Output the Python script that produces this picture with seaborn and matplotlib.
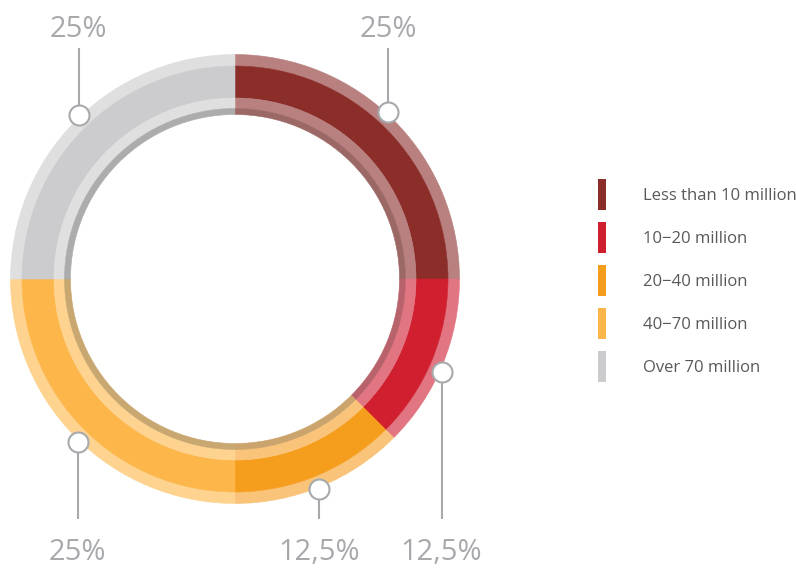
import numpy as np
import matplotlib
matplotlib.use("Agg")
import matplotlib.pyplot as plt
from matplotlib.patches import Patch
import seaborn as sns

# ---- data ----
categories = ["Less than 10 million", "10\u221220 million", "20\u221240 million",
              "40\u221270 million", "Over 70 million"]
shares = [25, 12.5, 12.5, 25, 25]
pct_labels = ["25%", "12,5%", "12,5%", "25%", "25%"]

# ---- styles ----
main_colors = ["#8B2E2A", "#D01F2E", "#F59E1E", "#FCB64A", "#CCCBCD"]
light_colors = ["#B98080", "#E27582", "#F9C47A", "#FDD38F", "#DFDFDF"]
line_colors = ["#9C6866", "#B8626C", "#CBA36C", "#C9A771", "#ACACAC"]
callout_nudge_deg = [2.5, -1.7, -0.8, 1.0, -1.4]
grey = "#A7A9AC"
text_dark = "#58595B"

sns.set_theme(style="white")
plt.rcParams["font.family"] = ["Open Sans", "DejaVu Sans"]

W, H = 796, 568
fig = plt.figure(figsize=(W / 100, H / 100), dpi=100)
ax = fig.add_axes([0, 0, 1, 1])

cx, cy = 235, H - 279
R_out, R_main_out, R_main_in, R_line_out, R_in = 224.5, 213.0, 181.0, 170.5, 164.5


def ring(colors, r_outer, r_inner):
    wedges, _ = ax.pie(shares, colors=colors, radius=r_outer, center=(cx, cy),
                       startangle=90, counterclock=False,
                       wedgeprops=dict(width=r_outer - r_inner, linewidth=0.4))
    for w, c in zip(wedges, colors):
        w.set_edgecolor(c)
    return wedges


ring(light_colors, R_out, R_main_out)
ring(main_colors, R_main_out, R_main_in)
ring(light_colors, R_main_in, R_line_out)
ring(line_colors, R_line_out, R_in)

# ---- callouts ----
cum = np.cumsum([0] + shares[:-1])
mid_deg = 90 - (cum + np.array(shares) / 2) / sum(shares) * 360 + np.array(callout_nudge_deg)
r_call = 226.5
for ang, lab in zip(mid_deg, pct_labels):
    a = np.deg2rad(ang)
    px, py = cx + r_call * np.cos(a), cy + r_call * np.sin(a)
    if py > cy:  # upper half -> label above
        ax.plot([px, px], [py, H - 48], color=grey, lw=1.5, solid_capstyle="butt", zorder=4)
        ax.text(px, H - 37, lab, ha="center", va="baseline", fontsize=21, color=grey)
    else:
        ax.plot([px, px], [py, H - 519], color=grey, lw=1.5, solid_capstyle="butt", zorder=4)
        ax.text(px, H - 560, lab, ha="center", va="baseline", fontsize=21, color=grey)
    ax.plot([px], [py], marker="o", markersize=14.4, markerfacecolor="white",
            markeredgecolor=grey, markeredgewidth=1.5, zorder=5)

# ---- legend ----
handles = [Patch(facecolor=c, edgecolor="none") for c in main_colors]
fs = 12
fs_px = fs * 100 / 72
hh = (31 / fs_px - 0.245) / 0.65
leg = ax.legend(handles, categories, loc="upper left",
                bbox_to_anchor=(598, H - 179), bbox_transform=ax.transData,
                frameon=False, fontsize=fs, handlelength=8 / fs_px,
                handleheight=hh, labelspacing=12 / fs_px,
                handletextpad=37 / fs_px, borderpad=0, borderaxespad=0)
for t in leg.get_texts():
    t.set_color(text_dark)

ax.set_xlim(0, W)
ax.set_ylim(0, H)
ax.set_aspect("auto")
ax.axis("off")

fig.savefig("out.png", dpi=100)
